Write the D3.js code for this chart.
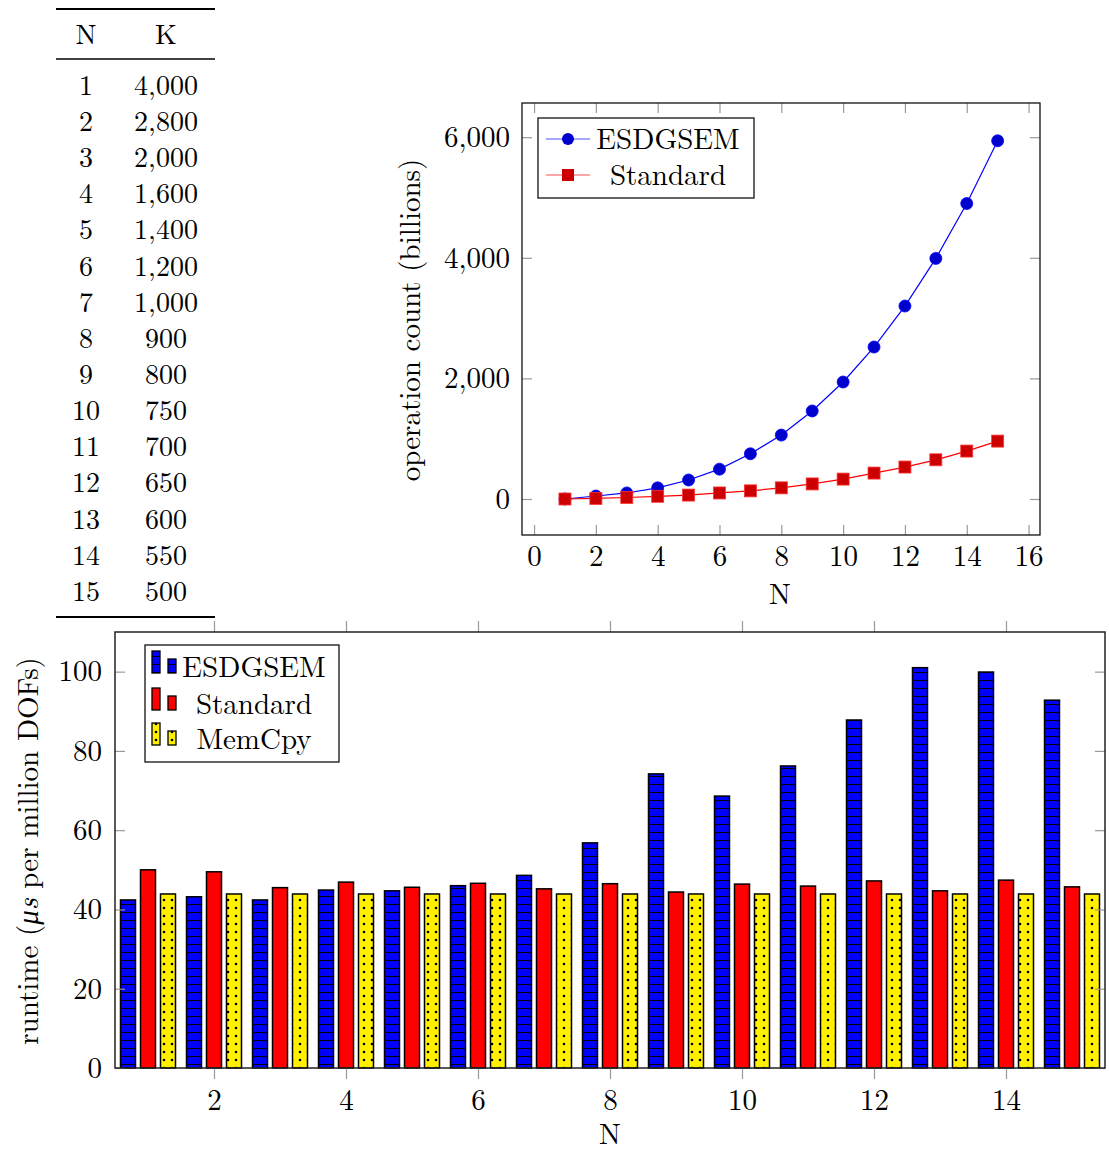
<!DOCTYPE html>
<html>
<head>
<meta charset="utf-8">
<script src="https://cdn.jsdelivr.net/npm/d3@7"></script>
<style>
  body { margin: 0; background: #fff; }
  text { font-family: "Latin Modern Roman", "CMU Serif", "Liberation Serif", serif; font-size: 29px; fill: #000; }
  .tbl text { font-size: 28px; }
</style>
</head>
<body>
<svg id="fig" width="1109" height="1151"></svg>
<script>
// data
const nValues = [1, 2, 3, 4, 5, 6, 7, 8, 9, 10, 11, 12, 13, 14, 15];
const tableK = [4000, 2800, 2000, 1600, 1400, 1200, 1000, 900, 800, 750, 700, 650, 600, 550, 500];

const opsEsdgsem = [0, 50, 100, 185, 315, 495, 750, 1060, 1460, 1940, 2520, 3200, 3990, 4900, 5940];
const opsStandard = [0, 10, 25, 45, 65, 100, 135, 185, 250, 330, 430, 530, 650, 795, 960];
const opsXTicks = [0, 2, 4, 6, 8, 10, 12, 14, 16];
const opsYTicks = [0, 2000, 4000, 6000];

const runtimeEsdgsem = [42.4, 43.2, 42.4, 44.9, 44.7, 46.0, 48.6, 56.8, 74.2, 68.6, 76.2, 87.8, 101.0, 99.9, 92.8];
const runtimeStandard = [50.0, 49.5, 45.5, 46.9, 45.6, 46.6, 45.2, 46.5, 44.4, 46.4, 45.9, 47.2, 44.7, 47.4, 45.7];
const runtimeMemcpy = [43.9, 43.9, 43.9, 43.9, 43.9, 43.9, 43.9, 43.9, 43.9, 43.9, 43.9, 43.9, 43.9, 43.9, 43.9];
const barXTicks = [2, 4, 6, 8, 10, 12, 14];
const barYTicks = [0, 20, 40, 60, 80, 100];

const svg = d3.select("#fig");
const fmt = d3.format(",");

// patterns for the bars
const defs = svg.append("defs");
const hl = defs.append("pattern").attr("id", "hlines")
  .attr("patternUnits", "userSpaceOnUse").attr("width", 8).attr("height", 8);
hl.append("rect").attr("width", 8).attr("height", 8).attr("fill", "#0000ff");
hl.append("line").attr("x1", 0).attr("x2", 8).attr("y1", 0.5).attr("y2", 0.5)
  .attr("stroke", "#000").attr("stroke-width", 1);
const dots = defs.append("pattern").attr("id", "dots")
  .attr("patternUnits", "userSpaceOnUse").attr("width", 8).attr("height", 8);
dots.append("rect").attr("width", 8).attr("height", 8).attr("fill", "#fff000");
dots.append("circle").attr("cx", 4).attr("cy", 4).attr("r", 1.3).attr("fill", "#000");

//table
const table = svg.append("g").attr("class", "tbl");
table.append("line").attr("x1", 56).attr("x2", 215).attr("y1", 9).attr("y2", 9)
  .attr("stroke", "#000").attr("stroke-width", 2.2);
table.append("line").attr("x1", 56).attr("x2", 215).attr("y1", 59).attr("y2", 59)
  .attr("stroke", "#000").attr("stroke-width", 1.3);
table.append("line").attr("x1", 56).attr("x2", 215).attr("y1", 617).attr("y2", 617)
  .attr("stroke", "#000").attr("stroke-width", 2.2);
table.append("text").attr("x", 86).attr("y", 34).attr("dy", "0.35em")
  .attr("text-anchor", "middle").text("N");
table.append("text").attr("x", 166).attr("y", 34).attr("dy", "0.35em")
  .attr("text-anchor", "middle").text("K");
const rowY = d3.scaleLinear().domain([1, 15]).range([85, 591]);
nValues.forEach((n, i) => {
  table.append("text").attr("x", 86).attr("y", rowY(n)).attr("dy", "0.35em")
    .attr("text-anchor", "middle").text(n);
  table.append("text").attr("x", 166).attr("y", rowY(n)).attr("dy", "0.35em")
    .attr("text-anchor", "middle").text(fmt(tableK[i]));
});

function styleAxis(g) {
  g.select(".domain").remove();
  g.selectAll(".tick line").attr("stroke", "#999").attr("stroke-width", 1.2);
  g.selectAll(".tick text").style("font-size", "29px").attr("fill", "#000");
}

// line chart
const lx = d3.scaleLinear().domain([-0.39, 16.37]).range([522, 1040]);
const ly = d3.scaleLinear().domain([-597, 6567]).range([535, 103]);
const lc = svg.append("g");

lc.append("g").attr("transform", "translate(0,535)")
  .call(d3.axisBottom(lx).tickValues(opsXTicks).tickSize(-10).tickPadding(10).tickFormat(d3.format("d")))
  .call(styleAxis);
lc.append("g").attr("transform", "translate(0,103)")
  .call(d3.axisTop(lx).tickValues(opsXTicks).tickSize(-10).tickFormat(""))
  .call(styleAxis);
lc.append("g").attr("transform", "translate(522,0)")
  .call(d3.axisLeft(ly).tickValues(opsYTicks).tickSize(-10).tickPadding(12).tickFormat(fmt))
  .call(styleAxis);
lc.append("g").attr("transform", "translate(1040,0)")
  .call(d3.axisRight(ly).tickValues(opsYTicks).tickSize(-10).tickFormat(""))
  .call(styleAxis);
lc.append("rect").attr("x", 522).attr("y", 103).attr("width", 518).attr("height", 432)
  .attr("fill", "none").attr("stroke", "#111").attr("stroke-width", 1.3);

const line = d3.line().x((d, i) => lx(nValues[i])).y(d => ly(d));
lc.append("path").datum(opsEsdgsem).attr("d", line)
  .attr("fill", "none").attr("stroke", "#0000ff").attr("stroke-width", 1.2);
lc.append("path").datum(opsStandard).attr("d", line)
  .attr("fill", "none").attr("stroke", "#ff0000").attr("stroke-width", 1.2);
lc.selectAll("circle.esd").data(opsEsdgsem).enter().append("circle")
  .attr("class", "esd")
  .attr("cx", (d, i) => lx(nValues[i])).attr("cy", d => ly(d))
  .attr("r", 6).attr("fill", "#0000cc").attr("stroke", "#0000ff").attr("stroke-width", 0.8);
lc.selectAll("rect.std").data(opsStandard).enter().append("rect")
  .attr("class", "std")
  .attr("x", (d, i) => lx(nValues[i]) - 6).attr("y", d => ly(d) - 6)
  .attr("width", 12).attr("height", 12)
  .attr("fill", "#cc0000").attr("stroke", "#ff3333").attr("stroke-width", 0.8);

lc.append("text").attr("x", 780).attr("y", 594).attr("dy", "0.35em")
  .attr("text-anchor", "middle").text("N");
lc.append("text").attr("transform", "translate(410,320) rotate(-90)").attr("dy", "0.35em")
  .attr("text-anchor", "middle").text("operation count  (billions)");

// legend of line chart
const lleg = lc.append("g");
lleg.append("rect").attr("x", 538).attr("y", 118).attr("width", 216).attr("height", 80)
  .attr("fill", "#fff").attr("stroke", "#111").attr("stroke-width", 1.3);
[["ESDGSEM", "#0000ff", "#0000cc", 139], ["Standard", "#ff0000", "#cc0000", 175]].forEach((e, i) => {
  lleg.append("line").attr("x1", 546).attr("x2", 590).attr("y1", e[3]).attr("y2", e[3])
    .attr("stroke", e[1]).attr("stroke-width", 1.2).attr("opacity", 0.7);
  if (i === 0) {
    lleg.append("circle").attr("cx", 568).attr("cy", e[3]).attr("r", 6).attr("fill", e[2]);
  } else {
    lleg.append("rect").attr("x", 562).attr("y", e[3] - 6).attr("width", 12).attr("height", 12).attr("fill", e[2]);
  }
  lleg.append("text").attr("x", 668).attr("y", e[3]).attr("dy", "0.35em")
    .attr("text-anchor", "middle").text(e[0]);
});

// bar chart
const bx = d3.scaleLinear().domain([0.5, 15.5]).range([115, 1105]);
const by = d3.scaleLinear().domain([0, 110]).range([1068, 632]);
const bc = svg.append("g");
const barW = 15;

const series = [
  { name: "ESDGSEM", values: runtimeEsdgsem, fill: "url(#hlines)", off: -20 },
  { name: "Standard", values: runtimeStandard, fill: "#ff0000", off: 0 },
  { name: "MemCpy", values: runtimeMemcpy, fill: "url(#dots)", off: 20 }
];

series.forEach(s => {
  bc.selectAll(null).data(s.values).enter().append("rect")
    .attr("x", (d, i) => bx(nValues[i]) + s.off - barW / 2)
    .attr("y", d => by(d))
    .attr("width", barW)
    .attr("height", d => by(0) - by(d))
    .attr("fill", s.fill)
    .attr("stroke", "#000").attr("stroke-width", 1.5);
});

bc.append("g").attr("transform", "translate(0,1068)")
  .call(d3.axisBottom(bx).tickValues(barXTicks).tickSize(11).tickPadding(10).tickFormat(d3.format("d")))
  .call(styleAxis);
bc.append("g").attr("transform", "translate(0,632)")
  .call(d3.axisTop(bx).tickValues(barXTicks).tickSize(11).tickFormat(""))
  .call(styleAxis);
bc.append("g").attr("transform", "translate(115,0)")
  .call(d3.axisLeft(by).tickValues(barYTicks).tickSize(-10).tickPadding(13))
  .call(styleAxis);
bc.append("g").attr("transform", "translate(1105,0)")
  .call(d3.axisRight(by).tickValues(barYTicks).tickSize(-10).tickFormat(""))
  .call(styleAxis);
bc.append("rect").attr("x", 115).attr("y", 632).attr("width", 990).attr("height", 436)
  .attr("fill", "none").attr("stroke", "#222").attr("stroke-width", 1.5);

bc.append("text").attr("x", 610).attr("y", 1134).attr("dy", "0.35em")
  .attr("text-anchor", "middle").text("N");
const ylab = bc.append("text").attr("transform", "translate(28,851) rotate(-90)").attr("dy", "0.35em")
  .attr("text-anchor", "middle");
ylab.append("tspan").text("runtime (");
ylab.append("tspan").attr("font-style", "italic").text("μs");
ylab.append("tspan").text(" per million DOFs)");

// legend of bar chart
const bleg = bc.append("g");
bleg.append("rect").attr("x", 145).attr("y", 645).attr("width", 194).attr("height", 117)
  .attr("fill", "#fff").attr("stroke", "#111").attr("stroke-width", 1.3);
series.forEach((s, i) => {
  const cy = [667, 704, 739][i];
  bleg.append("rect").attr("x", 152).attr("y", cy - 16).attr("width", 8).attr("height", 22)
    .attr("fill", s.fill).attr("stroke", "#000").attr("stroke-width", 1.3);
  bleg.append("rect").attr("x", 168).attr("y", cy - 8).attr("width", 8).attr("height", 14)
    .attr("fill", s.fill).attr("stroke", "#000").attr("stroke-width", 1.3);
  bleg.append("text").attr("x", 254).attr("y", cy).attr("dy", "0.35em")
    .attr("text-anchor", "middle").text(s.name);
});
</script>
</body>
</html>
